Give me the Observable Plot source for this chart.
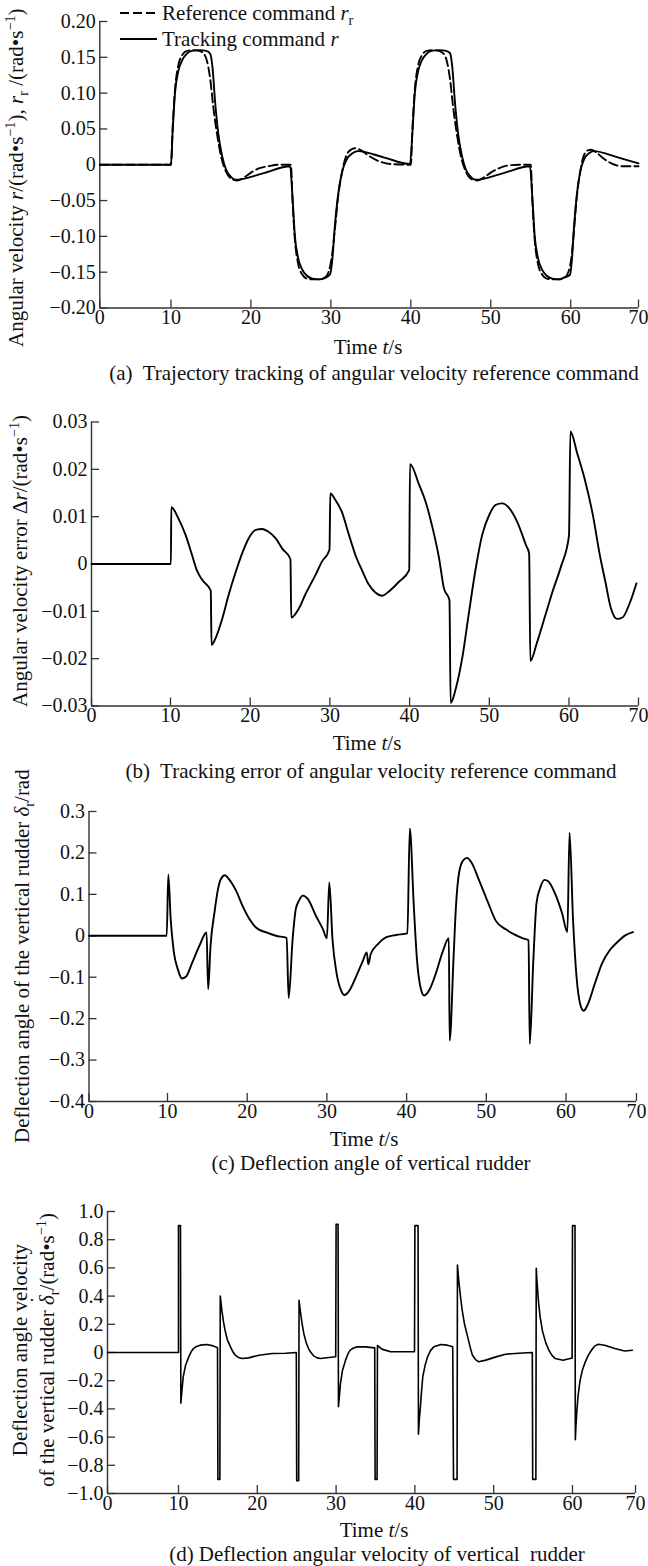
<!DOCTYPE html>
<html><head><meta charset="utf-8">
<script src="https://cdn.jsdelivr.net/npm/d3@7"></script>
<script src="https://cdn.jsdelivr.net/npm/@observablehq/plot@0.6"></script>
<style>
html,body{margin:0;padding:0;background:#fff;}
#root{position:relative;width:648px;height:1566px;overflow:hidden;font-family:"Liberation Serif","Times New Roman",serif;color:#111;}
.t{position:absolute;white-space:pre;line-height:1;font-size:21px;}
.c{transform:translate(-50%,-50%);}
.vb{transform-origin:0 0;transform:rotate(-90deg);}
.vc{transform:translate(-50%,-50%) rotate(-90deg);text-align:center;line-height:1.3;}
sub,sup{font-size:0.68em;line-height:0;}
.dot{position:relative;display:inline-block;}
.dot::after{content:"\02D9";position:absolute;left:0;right:0;top:-0.42em;text-align:center;font-style:normal;}
svg.panel{position:absolute;left:0;}
</style></head><body><div id="root"></div>
<script>
// ---------- data ----------
const xTicks = [0, 10, 20, 30, 40, 50, 60, 70];
const aYTicks = [-0.2, -0.15, -0.1, -0.05, 0, 0.05, 0.1, 0.15, 0.2];
const bYTicks = [-0.03, -0.02, -0.01, 0, 0.01, 0.02, 0.03];
const cYTicks = [-0.4, -0.3, -0.2, -0.1, 0, 0.1, 0.2, 0.3];
const dYTicks = [-1, -0.8, -0.6, -0.4, -0.2, 0, 0.2, 0.4, 0.6, 0.8, 1];

// (a) reference command r_r (dashed)  [t, value]
const refCmd = [[0,0],[10,0],[10.2,0.05],[10.5,0.105],[10.9,0.138],[11.4,0.153],[12.0,0.159],[12.7,0.16],[13.5,0.159],[14.1,0.155],[14.5,0.145],[14.9,0.12],[15.3,0.08],[15.8,0.04],[16.3,0.01],[16.9,-0.01],[17.6,-0.02],[18.3,-0.022],[19.1,-0.018],[20.0,-0.011],[21.0,-0.005],[22.2,-0.002],[23.5,0],[25.0,0],[25.2,-0.05],[25.5,-0.105],[25.9,-0.138],[26.4,-0.153],[27.0,-0.159],[27.7,-0.16],[28.5,-0.16],[29.2,-0.158],[29.7,-0.15],[30.1,-0.13],[30.5,-0.09],[30.9,-0.045],[31.4,-0.01],[31.9,0.012],[32.5,0.021],[33.0,0.023],[33.8,0.02],[34.8,0.012],[36.0,0.005],[37.5,0.001],[40,0],[40.2,0.05],[40.5,0.105],[40.9,0.138],[41.4,0.153],[42.0,0.159],[42.7,0.16],[43.5,0.159],[44.1,0.155],[44.5,0.145],[44.9,0.12],[45.3,0.08],[45.8,0.04],[46.3,0.01],[46.9,-0.01],[47.6,-0.02],[48.3,-0.022],[49.1,-0.018],[50.0,-0.011],[51.0,-0.005],[52.2,-0.001],[53.5,0],[55.0,0],[55.2,-0.05],[55.5,-0.105],[55.9,-0.138],[56.4,-0.153],[57.0,-0.159],[57.7,-0.16],[58.5,-0.16],[59.2,-0.158],[59.7,-0.15],[60.1,-0.13],[60.5,-0.09],[60.9,-0.045],[61.4,-0.01],[61.9,0.012],[62.5,0.02],[63.0,0.021],[63.8,0.017],[64.8,0.009],[66.0,0.002],[67.5,-0.002],[70,-0.002]];

// (a) tracking command r (solid)
const trkCmd = [[0,0],[10,0],[10.2,0.045],[10.5,0.10],[10.9,0.13],[11.4,0.146],[11.9,0.154],[12.6,0.159],[13.6,0.16],[14.4,0.159],[14.9,0.155],[15.2,0.135],[15.5,0.09],[15.9,0.045],[16.4,0.012],[16.9,-0.007],[17.5,-0.017],[18.1,-0.021],[21.5,-0.012],[24.9,-0.002],[25.2,-0.045],[25.5,-0.10],[25.9,-0.13],[26.4,-0.146],[27.0,-0.155],[27.7,-0.159],[28.5,-0.16],[29.3,-0.158],[29.9,-0.153],[30.2,-0.13],[30.5,-0.085],[30.9,-0.042],[31.4,-0.01],[32.0,0.008],[32.7,0.016],[33.4,0.019],[36.7,0.01],[39.9,0.001],[40.2,0.045],[40.5,0.10],[40.9,0.13],[41.4,0.146],[41.9,0.154],[42.6,0.159],[43.6,0.16],[44.4,0.159],[44.9,0.156],[45.2,0.135],[45.5,0.09],[45.9,0.045],[46.4,0.012],[46.9,-0.007],[47.5,-0.017],[48.1,-0.021],[51.5,-0.012],[54.9,-0.002],[55.2,-0.045],[55.5,-0.10],[55.9,-0.13],[56.4,-0.146],[57.0,-0.155],[57.7,-0.159],[58.5,-0.16],[59.3,-0.157],[59.9,-0.154],[60.2,-0.13],[60.5,-0.085],[60.9,-0.042],[61.4,-0.01],[62.0,0.008],[62.7,0.016],[63.4,0.019],[66.7,0.011],[70,0.002]];

// (b) tracking error Δr
const trkErr = [[0,0],[10.05,0],[10.1,0.012],[11,0.0096],[11.9,0.0061],[12.7,0.0019],[13.3,-0.0013],[14,-0.0034],[15.05,-0.0056],[15.15,-0.0171],[15.65,-0.0157],[16.5,-0.0115],[17.3,-0.0065],[18.2,-0.0016],[19,0.0023],[19.8,0.0054],[20.7,0.0072],[21.5,0.0074],[22.3,0.0068],[23.2,0.0054],[24,0.0033],[25.05,0.001],[25.15,-0.0113],[26.1,-0.0094],[26.9,-0.0065],[28.2,-0.0023],[29,0.0005],[29.95,0.003],[30.05,0.0149],[30.7,0.0135],[31.5,0.011],[32.4,0.0061],[33.2,0.0019],[34.1,-0.0016],[34.9,-0.0044],[35.7,-0.006],[36.6,-0.0067],[37.4,-0.0058],[38.7,-0.0037],[39.95,-0.0013],[40.05,0.0211],[41.2,0.0167],[42,0.0132],[42.8,0.0082],[43.7,0.0012],[44.3,-0.0051],[45.0,-0.0076],[45.15,-0.0294],[45.8,-0.0263],[46.6,-0.0199],[47.4,-0.0108],[48.3,-0.0009],[49.1,0.0061],[50,0.0104],[50.8,0.0125],[51.6,0.0128],[52.5,0.0118],[53.5,0.0089],[54.6,0.004],[55,0.0022],[55.15,-0.0205],[56,-0.0165],[57,-0.011],[58,-0.0055],[59,-0.0005],[60,0.006],[60.2,0.028],[61.2,0.0233],[62.3,0.0177],[63.4,0.0106],[64.5,0.0014],[65.2,-0.0035],[66,-0.0092],[66.9,-0.0116],[67.7,-0.0113],[68.7,-0.0084],[69.7,-0.0041]];

// (c) rudder deflection δr
const rudAngle = [[0,0],[9.9,0],[10.1,0.148],[10.4,0.04],[10.8,-0.04],[11.3,-0.081],[11.8,-0.103],[12.3,-0.099],[13.1,-0.065],[14.0,-0.024],[14.9,0.008],[15.1,-0.129],[15.4,-0.024],[15.9,0.057],[16.3,0.109],[16.7,0.137],[17.2,0.146],[17.7,0.137],[18.6,0.109],[19.4,0.073],[20.3,0.04],[21.1,0.02],[22.4,0.008],[23.6,0],[24.95,-0.005],[25.2,-0.15],[25.7,-0.008],[26.1,0.065],[26.5,0.085],[27.0,0.097],[27.6,0.089],[28.6,0.049],[29.5,0.016],[30.0,-0.006],[30.3,0.129],[30.7,-0.008],[31.2,-0.089],[31.8,-0.133],[32.2,-0.143],[32.8,-0.133],[33.7,-0.097],[34.5,-0.061],[35.0,-0.04],[35.2,-0.069],[35.5,-0.044],[36.4,-0.02],[37.4,-0.004],[38.7,0.002],[40.1,0.006],[40.4,0.259],[40.9,0.073],[41.3,-0.057],[41.8,-0.129],[42.2,-0.144],[42.9,-0.129],[43.7,-0.089],[44.5,-0.04],[45.3,-0.006],[45.4,-0.253],[45.9,-0.049],[46.2,0.073],[46.6,0.154],[47.1,0.182],[47.6,0.188],[48.1,0.178],[49.2,0.129],[50.2,0.081],[51.2,0.036],[52.5,0.015],[54.6,-0.006],[55.3,-0.011],[55.45,-0.261],[55.9,-0.06],[56.3,0.079],[56.8,0.118],[57.3,0.135],[57.8,0.131],[58.6,0.103],[59.5,0.055],[60.2,0.009],[60.5,0.249],[61.0,0.038],[61.5,-0.1],[62.0,-0.164],[62.5,-0.181],[63.0,-0.169],[64.1,-0.115],[65.1,-0.067],[66.2,-0.035],[67.3,-0.015],[68.4,0.001],[69.5,0.009]];

// (d) rudder deflection rate
const rudRate = [[0,0],[10,0],[10,0.9],[10.25,0.9],[10.3,-0.36],[10.4,-0.29],[10.6,-0.173],[10.9,-0.09],[11.3,-0.031],[11.6,0.005],[11.9,0.028],[12.3,0.043],[12.75,0.052],[13.6,0.057],[14.4,0.047],[14.95,0.033],[15,-0.9],[15.25,-0.9],[15.3,0.4],[15.4,0.35],[15.5,0.3],[15.7,0.22],[15.9,0.159],[16.2,0.09],[16.6,0.04],[16.9,0.005],[17.2,-0.019],[17.6,-0.035],[18.05,-0.043],[18.9,-0.038],[20.2,-0.019],[21.9,-0.007],[23.6,-0.005],[24.95,0],[25,-0.91],[25.25,-0.91],[25.3,0.37],[25.4,0.32],[25.5,0.277],[25.7,0.2],[25.9,0.135],[26.2,0.07],[26.5,0.028],[26.8,0],[27.2,-0.026],[27.6,-0.038],[28,-0.043],[29.1,-0.036],[29.95,-0.03],[30,0.91],[30.25,0.91],[30.3,-0.385],[30.4,-0.32],[30.55,-0.22],[30.8,-0.13],[31.2,-0.054],[31.5,-0.01],[31.8,0.017],[32.2,0.032],[32.7,0.04],[33.7,0.04],[34.9,0.033],[34.95,-0.9],[35.2,-0.9],[35.25,0.05],[35.8,0.024],[36.9,0.005],[38.4,0.005],[39.95,0.005],[40,0.9],[40.4,0.9],[40.45,-0.58],[40.55,-0.48],[40.7,-0.386],[40.85,-0.27],[41,-0.173],[41.3,-0.09],[41.6,-0.031],[42,0.015],[42.4,0.04],[43.3,0.057],[44.1,0.052],[44.8,0.04],[44.9,-0.9],[45.35,-0.9],[45.4,0.62],[45.5,0.55],[45.6,0.49],[45.8,0.39],[46,0.3],[46.3,0.2],[46.7,0.111],[47,0.04],[47.3,-0.019],[47.7,-0.05],[48.1,-0.066],[49,-0.054],[50.3,-0.031],[51.5,-0.012],[53.2,-0.005],[54.9,0],[54.95,-0.9],[55.35,-0.9],[55.4,0.598],[55.5,0.5],[55.7,0.35],[55.9,0.25],[56.2,0.15],[56.6,0.07],[57,0.016],[57.4,-0.02],[57.8,-0.043],[58.8,-0.055],[59.7,-0.043],[59.95,-0.04],[60,0.9],[60.4,0.9],[60.45,-0.619],[60.55,-0.52],[60.7,-0.41],[60.9,-0.3],[61.2,-0.2],[61.6,-0.12],[62,-0.07],[62.5,-0.02],[63,0.016],[63.5,0.045],[64.1,0.059],[65.1,0.052],[66.7,0.028],[68.3,0.011],[69.5,0.016]];

// ---------- drawing ----------
const root = document.getElementById("root");
const AX = "#333";
const fmt = (n) => (d) => d === 0 ? "0" : (d < 0 ? "\u2212" : "") + Math.abs(d).toFixed(n);

// x axis of the original figure: 0 and 70 sit at the frame ends, 10…60 evenly spaced
function panel({top, height, mt, mb, xRange, yDomain, yTicks, yFmt, marks}) {
  const svg = Plot.plot({
    width: 648, height, marginTop: mt, marginBottom: mb,
    marginLeft: xRange[0], marginRight: 648 - xRange[3],
    x: {type: "linear", domain: [0, 10, 60, 70], range: xRange},
    y: {domain: yDomain},
    style: {fontFamily: '"Liberation Serif","Times New Roman",serif', fontSize: "20px", color: AX, background: "transparent", overflow: "visible"},
    marks: [
      Plot.ruleX([0], {stroke: AX, strokeWidth: 1.4}),
      Plot.ruleY([yDomain[0]], {stroke: AX, strokeWidth: 1.4}),
      Plot.axisX(xTicks, {tickSize: -8, tickPadding: 10, label: null, tickFormat: d => String(d), fill: "#111", strokeWidth: 1.3}),
      Plot.axisY(yTicks, {tickSize: -8, tickPadding: 12, label: null, tickFormat: yFmt, fill: "#111", strokeWidth: 1.3}),
      ...marks
    ]
  });
  svg.classList.add("panel");
  svg.style.top = top + "px";
  root.appendChild(svg);
}

const lineOpts = {x: d => d[0], y: d => d[1], stroke: "#000", strokeWidth: 1.9, curve: "monotone-x"};

panel({top: 0, height: 335, mt: 21, mb: 27.5, xRange: [99.3, 170.5, 570.2, 638], yDomain: [-0.2, 0.2], yTicks: aYTicks, yFmt: fmt(2),
  marks: [
    Plot.line(refCmd, {...lineOpts, strokeDasharray: "9,4"}),
    Plot.line(trkCmd, lineOpts)
  ]});
panel({top: 400, height: 333, mt: 21.5, mb: 27.5, xRange: [91, 170, 568.5, 638], yDomain: [-0.03, 0.03], yTicks: bYTicks, yFmt: fmt(2),
  marks: [Plot.line(trkErr, lineOpts)]});
panel({top: 790, height: 338.5, mt: 21, mb: 27.5, xRange: [88.5, 167, 565.5, 636], yDomain: [-0.4, 0.3], yTicks: cYTicks, yFmt: fmt(1),
  marks: [Plot.line(rudAngle, lineOpts)]});
panel({top: 1190, height: 330.5, mt: 21, mb: 27.5, xRange: [107, 178, 572, 635], yDomain: [-1, 1], yTicks: dYTicks, yFmt: fmt(1),
  marks: [Plot.line(rudRate, {...lineOpts, curve: "linear", strokeWidth: 1.6})]});

function txt(html, cls, css) {
  const d = document.createElement("div");
  d.className = "t " + cls;
  d.innerHTML = html;
  Object.assign(d.style, css);
  root.appendChild(d);
  return d;
}
// centred texts
const centred = [
  ["Time <i>t</i>/s", 368, 347], ["(a)  Trajectory tracking of angular velocity reference command", 374, 373],
  ["Time <i>t</i>/s", 367, 743], ["(b)  Tracking error of angular velocity reference command", 371, 771],
  ["Time <i>t</i>/s", 364, 1139], ["(c) Deflection angle of vertical rudder", 371, 1163],
  ["Time <i>t</i>/s", 374, 1530], ["(d) Deflection angular velocity of vertical  rudder", 377, 1554]
];
for (const [h, x, y] of centred) txt(h, "c", {left: x + "px", top: y + "px"});

// rotated y titles, anchored at their bottom end
const yTitles = [
  ["Angular velocity <i>r</i>/(rad\u2022s<sup>\u22121</sup>), <i>r</i><sub>r</sub> /(rad\u2022s<sup>\u22121</sup>)", 16, 347],
  ["Angular velocity error \u0394<i>r</i>/(rad\u2022s<sup>\u22121</sup>)", 20, 707],
  ["Deflection angle of the vertical rudder <i>\u03b4</i><sub>r</sub>/rad", 22, 1143]
];
for (const [h, cx, by] of yTitles) txt(h, "vb", {left: (cx - 10.5) + "px", top: by + "px"});
txt("Deflection angle velocity<br>of the vertical rudder <i class=\"dot\">\u03b4</i><sub>r</sub>/(rad\u2022s<sup>\u22121</sup>)", "vc", {left: "34px", top: "1350px"});

// legend of panel (a)
const leg = document.createElement("div");
leg.style.cssText = "position:absolute;left:118px;top:0;";
leg.innerHTML = `<svg width="42" height="52" style="position:absolute;left:0;top:0">
<line x1="2" x2="39" y1="13" y2="13" stroke="#000" stroke-width="1.8" stroke-dasharray="9,4"/>
<line x1="2" x2="39" y1="39" y2="39" stroke="#000" stroke-width="1.8"/></svg>`;
root.appendChild(leg);
txt("Reference command <i>r</i><sub>r</sub>", "", {left: "162px", top: "3px"});
txt("Tracking command <i>r</i>", "", {left: "162px", top: "29px"});
</script></body></html>
